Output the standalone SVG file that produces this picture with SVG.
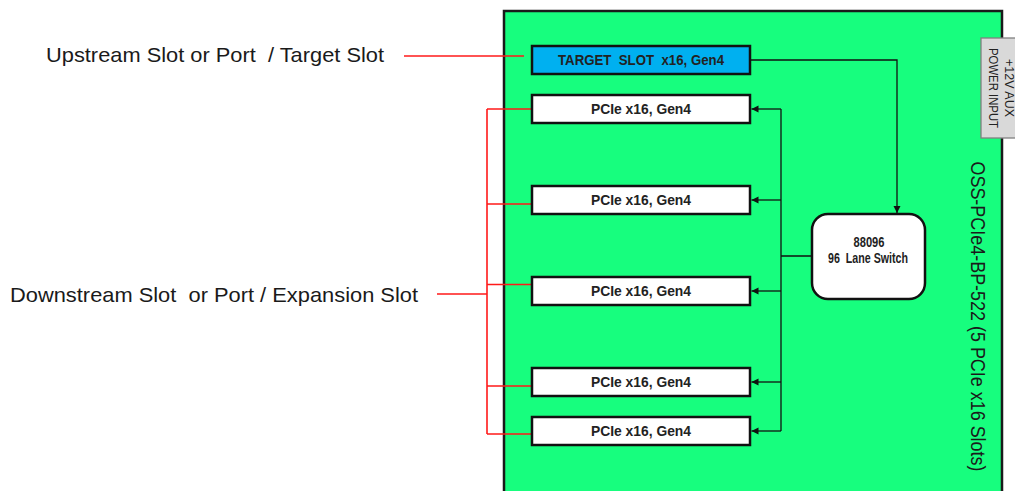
<svg xmlns="http://www.w3.org/2000/svg" width="1015" height="491" viewBox="0 0 1015 491">
<style>
.lbl{font-family:"Liberation Sans",Arial,sans-serif;font-size:21px;fill:#1a1a1a;white-space:pre}
.slot{fill:#ffffff;stroke:#111;stroke-width:2.5}
.slottxt{font-family:"Liberation Sans",Arial,sans-serif;font-size:14px;font-weight:bold;fill:#222;text-anchor:middle;white-space:pre}
.red{fill:none;stroke:#ff1a1a;stroke-width:1.6}
.blk{fill:none;stroke:#111;stroke-width:1.3}
</style>
<defs>
<marker id="ah" markerUnits="userSpaceOnUse" markerWidth="8" markerHeight="8" refX="7" refY="4" orient="auto">
<path d="M0,0.5 L7,4 L0,7.5 z" fill="#111"/>
</marker>
</defs>
<rect width="1015" height="491" fill="#ffffff"/>
<g id="board">
<rect x="504" y="11" width="498" height="495" fill="#17fe7e" stroke="#1a1a1a" stroke-width="2.5"/>
<text class="lbl" transform="translate(971,316.5) rotate(90)" text-anchor="middle" font-size="21" textLength="310" lengthAdjust="spacingAndGlyphs">OSS-PCIe4-BP-522 (5 PCIe x16 Slots)</text>
</g>
<g id="power">
<rect x="981" y="38" width="40" height="100" fill="#d9d9d9" stroke="#808080" stroke-width="1.3"/>
<text transform="translate(1005,88) rotate(90)" font-family="Liberation Sans,Arial,sans-serif" font-size="12" fill="#222" text-anchor="middle" textLength="58" lengthAdjust="spacingAndGlyphs">+12V AUX</text>
<text transform="translate(989,88) rotate(90)" font-family="Liberation Sans,Arial,sans-serif" font-size="12" fill="#222" text-anchor="middle" textLength="80" lengthAdjust="spacingAndGlyphs">POWER INPUT</text>
</g>
<g id="labels">
<text class="lbl" x="46" y="62" textLength="338" lengthAdjust="spacingAndGlyphs">Upstream Slot or Port  / Target Slot</text>
<text class="lbl" x="10" y="302" textLength="408" lengthAdjust="spacingAndGlyphs">Downstream Slot  or Port / Expansion Slot</text>
</g>
<g id="connectors">
<path class="red" d="M404,56 H524"/>
<path class="red" d="M437,294 H487 M487,109 V434 M487,109 H536 M487,204 H536 M487,284.5 H536 M487,386 H536 M487,434 H536"/>
<path class="blk" d="M750,60 H897 V213" marker-end="url(#ah)"/>
<path class="blk" d="M781,109 V431 M781,256 H812"/>
<path class="blk" d="M781,109 H751.5" marker-end="url(#ah)"/>
<path class="blk" d="M781,200 H751.5" marker-end="url(#ah)"/>
<path class="blk" d="M781,291 H751.5" marker-end="url(#ah)"/>
<path class="blk" d="M781,382 H751.5" marker-end="url(#ah)"/>
<path class="blk" d="M781,431 H751.5" marker-end="url(#ah)"/>
</g>
<g id="target">
<rect x="532" y="46" width="218" height="28" fill="#00b0f0" stroke="#111" stroke-width="2.5"/>
<text class="slottxt" x="641" y="65" textLength="166" lengthAdjust="spacingAndGlyphs">TARGET  SLOT  x16, Gen4</text>
</g>
<g id="slot1">
<rect class="slot" x="532" y="95" width="218" height="28"/>
<text class="slottxt" x="641" y="114" textLength="100" lengthAdjust="spacingAndGlyphs">PCIe x16, Gen4</text>
</g>
<g id="slot2">
<rect class="slot" x="532" y="186" width="218" height="28"/>
<text class="slottxt" x="641" y="205" textLength="100" lengthAdjust="spacingAndGlyphs">PCIe x16, Gen4</text>
</g>
<g id="slot3">
<rect class="slot" x="532" y="277" width="218" height="28"/>
<text class="slottxt" x="641" y="296" textLength="100" lengthAdjust="spacingAndGlyphs">PCIe x16, Gen4</text>
</g>
<g id="slot4">
<rect class="slot" x="532" y="368" width="218" height="28"/>
<text class="slottxt" x="641" y="387" textLength="100" lengthAdjust="spacingAndGlyphs">PCIe x16, Gen4</text>
</g>
<g id="slot5">
<rect class="slot" x="532" y="417" width="218" height="28"/>
<text class="slottxt" x="641" y="436" textLength="100" lengthAdjust="spacingAndGlyphs">PCIe x16, Gen4</text>
</g>
<g id="switch">
<rect x="812" y="214" width="113" height="85" rx="16" ry="16" fill="#ffffff" stroke="#111" stroke-width="2.5"/>
<text class="slottxt" x="869" y="247" font-size="11" textLength="31" lengthAdjust="spacingAndGlyphs">88096</text>
<text class="slottxt" x="868" y="263" font-size="11" textLength="80" lengthAdjust="spacingAndGlyphs">96  Lane Switch</text>
</g>
</svg>
